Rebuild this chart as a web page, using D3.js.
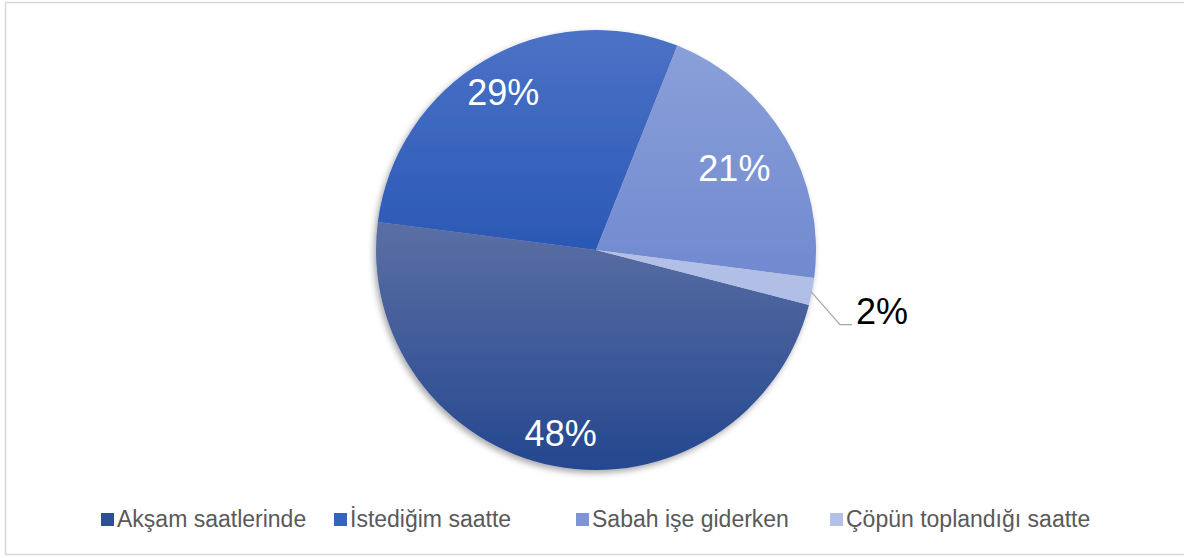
<!DOCTYPE html>
<html>
<head>
<meta charset="utf-8">
<script src="https://cdn.jsdelivr.net/npm/d3@7"></script>
<style>
  body { margin: 0; background: #fff; }
  svg { font-family: "Liberation Sans", Arial, sans-serif; }
</style>
</head>
<body>
<div id="chart"></div>
<script>
// chart data
var categories = ['Akşam saatlerinde', 'İstediğim saatte', 'Sabah işe giderken', 'Çöpün toplandığı saatte'];
var values = [48, 29, 21, 2];
var labels = ['48%', '29%', '21%', '2%'];

var colorsTop = ['#5a6ea3', '#4b72c6', '#8ca1da', '#bcc7ea'];
var colorsBottom = ['#24478f', '#2b58b5', '#6c86ce', '#a9b8e4'];
var legendColors = ['#2d4f95', '#3563c0', '#7e95d5', '#b3c0e7'];

var width = 1184, height = 558;
var cx = 596, cy = 250, radius = 220;
var startDeg = 104.5;
var labelRatio = [0.85, 0.83, 0.73];

var svg = d3.select('#chart').append('svg')
  .attr('width', width)
  .attr('height', height);

// outer frame
svg.append('rect')
  .attr('x', 5.5).attr('y', 2.5)
  .attr('width', 1190).attr('height', 552)
  .attr('fill', 'none')
  .attr('stroke', '#d9d9d9')
  .attr('stroke-width', 1.5);

var defs = svg.append('defs');

var shadow = defs.append('filter').attr('id', 'shadow')
  .attr('x', '-10%').attr('y', '-10%').attr('width', '120%').attr('height', '120%');
shadow.append('feDropShadow')
  .attr('dx', -2).attr('dy', 3).attr('stdDeviation', 3)
  .attr('flood-color', '#000').attr('flood-opacity', 0.35);

// gradients in the pie group's own coordinates (centre = 0,0)
var gradY = [[-20, radius], [-radius, 0], [-radius, radius * 0.3], [-radius, radius]];
categories.forEach(function (c, i) {
  var g = defs.append('linearGradient')
    .attr('id', 'grad' + i)
    .attr('gradientUnits', 'userSpaceOnUse')
    .attr('x1', 0).attr('y1', gradY[i][0])
    .attr('x2', 0).attr('y2', gradY[i][1]);
  g.append('stop').attr('offset', '0%').attr('stop-color', colorsTop[i]);
  g.append('stop').attr('offset', '100%').attr('stop-color', colorsBottom[i]);
});

var pie = d3.pie()
  .sort(null)
  .startAngle(startDeg * Math.PI / 180)
  .endAngle((startDeg + 360) * Math.PI / 180);

var arcs = pie(values);

var arc = d3.arc().innerRadius(0).outerRadius(radius);

var pieG = svg.append('g')
  .attr('transform', 'translate(' + cx + ',' + cy + ')');

pieG.append('g')
  .attr('filter', 'url(#shadow)')
  .selectAll('path')
  .data(arcs)
  .enter()
  .append('path')
  .attr('d', arc)
  .attr('fill', function (d, i) { return 'url(#grad' + i + ')'; });

// inside labels
arcs.slice(0, 3).forEach(function (d, i) {
  var a = (d.startAngle + d.endAngle) / 2;
  var r = radius * labelRatio[i];
  pieG.append('text')
    .attr('x', Math.sin(a) * r)
    .attr('y', -Math.cos(a) * r)
    .attr('text-anchor', 'middle')
    .attr('dominant-baseline', 'central')
    .attr('fill', '#fff')
    .attr('font-size', 36)
    .text(labels[i]);
});

// outside label for smallest slice with leader line
var small = arcs[3];
var am = (small.startAngle + small.endAngle) / 2;
var px = Math.sin(am) * radius, py = -Math.cos(am) * radius;
pieG.append('polyline')
  .attr('points', [[px - 1, py], [px + 28, py + 33], [px + 40, py + 33]].join(' '))
  .attr('fill', 'none')
  .attr('stroke', '#a6a6a6')
  .attr('stroke-width', 1.2);
pieG.append('text')
  .attr('x', px + 44)
  .attr('y', py + 20)
  .attr('dominant-baseline', 'central')
  .attr('fill', '#000')
  .attr('font-size', 36)
  .text(labels[3]);

// legend
var legendX = [101, 334, 576, 830];
var legend = svg.append('g');
categories.forEach(function (c, i) {
  legend.append('rect')
    .attr('x', legendX[i]).attr('y', 513)
    .attr('width', 13).attr('height', 13)
    .attr('fill', legendColors[i]);
  legend.append('text')
    .attr('x', legendX[i] + 16)
    .attr('y', 527)
    .attr('fill', '#595959')
    .attr('font-size', 23)
    .text(c);
});
</script>
</body>
</html>
